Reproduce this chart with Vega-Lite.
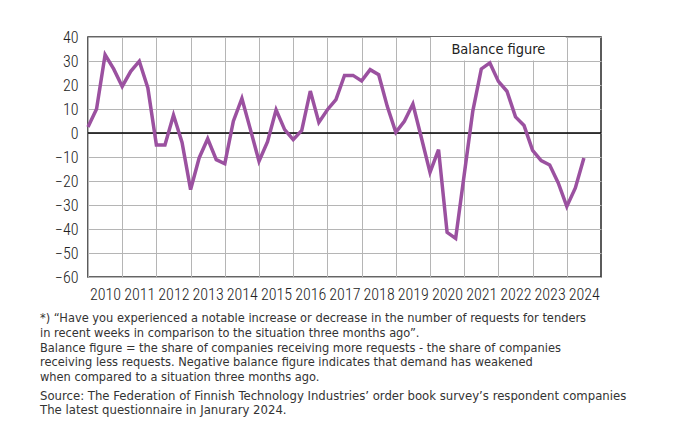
{
  "$schema": "https://vega.github.io/schema/vega-lite/v6.json",
  "width": 513,
  "height": 240,
  "autosize": "none",
  "padding": {"left": 88, "top": 37, "right": 73, "bottom": 146},
  "background": "white",
  "config": {
    "view": {"stroke": "#333333", "strokeWidth": 1.6},
    "font": "Roboto Condensed",
    "axis": {"labelFont": "Roboto Condensed", "labelFontSize": 16, "labelFontWeight": 300, "labelColor": "#222222", "gridColor": "#b5b5b5", "gridWidth": 1, "ticks": false, "domain": false, "title": null}
  },
  "title": {
    "text": [
      "*) \u201cHave you experienced a notable increase or decrease in the number of requests for tenders",
      "in recent weeks in comparison to the situation three months ago\u201d.",
      "Balance figure = the share of companies receiving more requests - the share of companies",
      "receiving less requests. Negative balance figure indicates that demand has weakened",
      "when compared to a situation three months ago."
    ],
    "subtitle": [
      "Source: The Federation of Finnish Technology Industries\u2019 order book survey\u2019s respondent companies",
      "The latest questionnaire in Janurary 2024."
    ],
    "orient": "bottom",
    "anchor": "start",
    "frame": "group",
    "dx": -48,
    "offset": 10,
    "font": "DejaVu Sans Condensed",
    "fontSize": 12.7,
    "fontWeight": "normal",
    "color": "#333333",
    "lineHeight": 14.8,
    "subtitleFont": "DejaVu Sans Condensed",
    "subtitleFontSize": 13,
    "subtitleColor": "#333333",
    "subtitleLineHeight": 14.6,
    "subtitlePadding": 6
  },
  "data": {
    "values": [
      {"t": 2010.0, "v": 2.5}, {"t": 2010.25, "v": 10}, {"t": 2010.5, "v": 32.6}, {"t": 2010.75, "v": 26.7},
      {"t": 2011.0, "v": 19.4}, {"t": 2011.25, "v": 25.7}, {"t": 2011.5, "v": 29.9}, {"t": 2011.75, "v": 18.8},
      {"t": 2012.0, "v": -5}, {"t": 2012.25, "v": -5}, {"t": 2012.5, "v": 7.5}, {"t": 2012.75, "v": -3.9},
      {"t": 2013.0, "v": -23.6}, {"t": 2013.25, "v": -10.4}, {"t": 2013.5, "v": -2.4}, {"t": 2013.75, "v": -11.1},
      {"t": 2014.0, "v": -12.8}, {"t": 2014.25, "v": 4.9}, {"t": 2014.5, "v": 14.4}, {"t": 2014.75, "v": 1.4},
      {"t": 2015.0, "v": -11.8}, {"t": 2015.25, "v": -3.6}, {"t": 2015.5, "v": 9.7}, {"t": 2015.75, "v": 1.4},
      {"t": 2016.0, "v": -2.8}, {"t": 2016.25, "v": 1.1}, {"t": 2016.5, "v": 17.5}, {"t": 2016.75, "v": 4.4},
      {"t": 2017.0, "v": 9.7}, {"t": 2017.25, "v": 13.9}, {"t": 2017.5, "v": 24}, {"t": 2017.75, "v": 24},
      {"t": 2018.0, "v": 21.7}, {"t": 2018.25, "v": 26.4}, {"t": 2018.5, "v": 24.3}, {"t": 2018.75, "v": 11.1},
      {"t": 2019.0, "v": 0.3}, {"t": 2019.25, "v": 4.9}, {"t": 2019.5, "v": 12.1}, {"t": 2019.75, "v": -2.1},
      {"t": 2020.0, "v": -16.4}, {"t": 2020.25, "v": -6.9}, {"t": 2020.5, "v": -41.4}, {"t": 2020.75, "v": -43.9},
      {"t": 2021.0, "v": -17.4}, {"t": 2021.25, "v": 9}, {"t": 2021.5, "v": 26.7}, {"t": 2021.75, "v": 29.2},
      {"t": 2022.0, "v": 21.5}, {"t": 2022.25, "v": 17.4}, {"t": 2022.5, "v": 6.7}, {"t": 2022.75, "v": 3.1},
      {"t": 2023.0, "v": -7.2}, {"t": 2023.25, "v": -11.5}, {"t": 2023.5, "v": -13.3}, {"t": 2023.75, "v": -20.8},
      {"t": 2024.0, "v": -30.6}, {"t": 2024.25, "v": -22.9}, {"t": 2024.5, "v": -10.4}
    ]
  },
  "encoding": {
    "x": {"field": "t", "type": "quantitative", "scale": {"domain": [2010, 2025], "nice": false, "zero": false},
      "axis": {"values": [2010, 2011, 2012, 2013, 2014, 2015, 2016, 2017, 2018, 2019, 2020, 2021, 2022, 2023, 2024], "format": "d", "labelOffset": 17, "labelPadding": 9, "labelOverlap": false, "labelFlush": false, "labelBound": false}},
    "y": {"field": "v", "type": "quantitative", "scale": {"domain": [-60, 40], "nice": false},
      "axis": {"values": [-60, -50, -40, -30, -20, -10, 0, 10, 20, 30, 40], "labelPadding": 10, "labelOverlap": false, "labelFlush": false}}
  },
  "layer": [
    {
      "data": {"values": [{"t": 2020.03, "t2": 2023.97, "v": 30.2, "v2": 40}]},
      "mark": {"type": "rect", "fill": "white"},
      "encoding": {
        "x2": {"field": "t2"},
        "y2": {"field": "v2"}
      }
    },
    {
      "data": {"values": [{"v": 0}]},
      "mark": {"type": "rule", "color": "black", "strokeWidth": 1.6},
      "encoding": {"x": null}
    },
    {
      "mark": {"type": "line", "color": "#9b51a0", "strokeWidth": 3.5, "strokeJoin": "miter", "strokeCap": "butt"}
    },
    {
      "data": {"values": [{"t": 2022, "v": 35, "label": "Balance figure"}]},
      "mark": {"type": "text", "fontSize": 14.5, "color": "#222222", "font": "DejaVu Sans Condensed", "baseline": "middle", "align": "center", "dy": 1},
      "encoding": {
        "text": {"field": "label"}
      }
    }
  ]
}
